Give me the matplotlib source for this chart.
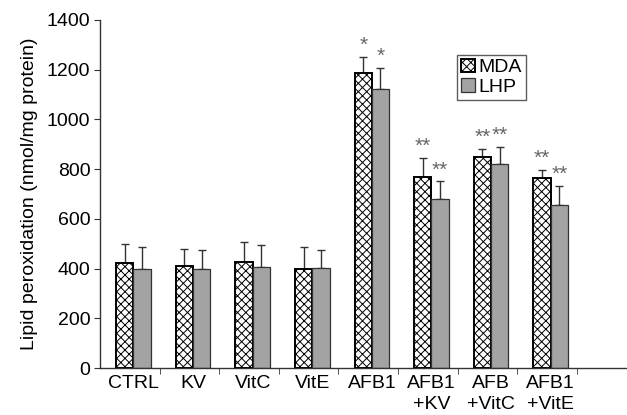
import matplotlib
matplotlib.use("Agg")
import matplotlib.pyplot as plt
import numpy as np

plt.rcParams['font.family'] = ['Liberation Sans', 'DejaVu Sans']
plt.rcParams['hatch.linewidth'] = 0.7
plt.rcParams['hatch.color'] = '#444444'

categories = ["CTRL", "KV", "VitC", "VitE", "AFB1", "AFB1\n+KV", "AFB\n+VitC", "AFB1\n+VitE"]
mda = [422, 411, 428, 400, 1188, 770, 849, 764]
mda_err = [78, 68, 77, 88, 64, 76, 31, 32]
lhp = [400, 398, 408, 402, 1124, 679, 819, 654]
lhp_err = [88, 78, 88, 73, 84, 72, 69, 78]
mda_sig = ["", "", "", "", "*", "**", "**", "**"]
lhp_sig = ["", "", "", "", "*", "**", "**", "**"]

fig = plt.figure(figsize=(6.27, 4.15), dpi=100)
ax = fig.add_axes([100/627, 47/415, 527/627, 348/415])

x = np.arange(len(categories))
w = 0.29
off = 0.06
ax.bar(x - w/2 + off, mda, w, color='white', edgecolor='black', linewidth=1.4,
       hatch='xxxx', label='MDA', zorder=2)
ax.bar(x + w/2 + off, lhp, w, color='#a3a3a3', edgecolor='#333333', linewidth=0.9,
       label='LHP', zorder=2)
ax.errorbar(x - w/2 + off, mda, yerr=[np.zeros(len(mda)), mda_err], fmt='none',
            ecolor='#333333', elinewidth=1.0, capsize=3, capthick=1.0, zorder=1)
ax.errorbar(x + w/2 + off, lhp, yerr=[np.zeros(len(lhp)), lhp_err], fmt='none',
            ecolor='#333333', elinewidth=1.0, capsize=3, capthick=1.0, zorder=1)

for i in range(len(categories)):
    if mda_sig[i]:
        ax.text(x[i] - w/2 + off, mda[i] + mda_err[i] + 8, mda_sig[i], ha='center',
                va='bottom', fontsize=15, color='#666666')
    if lhp_sig[i]:
        ax.text(x[i] + w/2 + off, lhp[i] + lhp_err[i] + 8, lhp_sig[i], ha='center',
                va='bottom', fontsize=15, color='#666666')

ax.set_xlim(-0.5, 8.34)
ax.set_ylim(0, 1400)
ax.set_yticks(np.arange(0, 1401, 200))
ax.set_xticks(x + off)
ax.set_xticklabels(categories, fontsize=14, linespacing=1.35)
ax.set_xticks(np.arange(0.5, 8, 1), minor=True)
ax.tick_params(axis='x', which='major', length=0, pad=5)
ax.tick_params(axis='x', which='minor', length=4, direction='out', color='#333333')
ax.tick_params(axis='y', labelsize=14, length=4, direction='out', color='#333333', pad=3)
ax.set_ylabel("Lipid peroxidation (nmol/mg protein)", fontsize=14, labelpad=6)
for s in ['top', 'right']:
    ax.spines[s].set_visible(False)
for s in ['left', 'bottom']:
    ax.spines[s].set_color('#333333')
    ax.spines[s].set_linewidth(1.0)

leg = ax.legend(loc='upper left', bbox_to_anchor=(357/527, 1 - 35/348), fontsize=14,
                frameon=True, fancybox=False, edgecolor='#333333', handlelength=0.7,
                handleheight=0.7, handletextpad=0.2, borderpad=0.2, labelspacing=0.1,
                borderaxespad=0)
leg.get_frame().set_linewidth(1.0)

fig.savefig("out.png", dpi=100)
